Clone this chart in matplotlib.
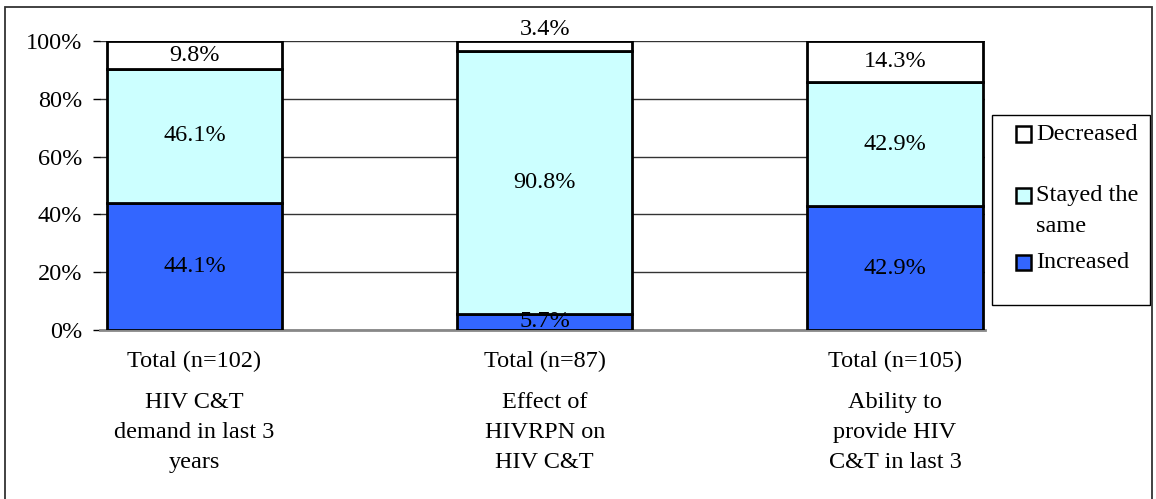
import matplotlib
matplotlib.use("Agg")
import matplotlib.pyplot as plt
from matplotlib.patches import Rectangle
import numpy as np

plt.rcParams['font.family'] = ['Liberation Serif', 'DejaVu Serif']

totals = ["Total (n=102)", "Total (n=87)", "Total (n=105)"]
descriptions = ["HIV C&T\ndemand in last 3\nyears",
                "Effect of\nHIVRPN on\nHIV C&T",
                "Ability to\nprovide HIV\nC&T in last 3"]
increased = [44.1, 5.7, 42.9]
stayed = [46.1, 90.8, 42.9]
decreased = [9.8, 3.4, 14.3]
series_names = ["Increased", "Stayed the\nsame", "Decreased"]
series_colors = ["#3366FF", "#CCFFFF", "#FFFFFF"]
yticks = [0, 20, 40, 60, 80, 100]

W, H = 1156, 499
fig = plt.figure(figsize=(W / 100, H / 100), dpi=100)
ax = fig.add_axes([100 / W, 1 - 330 / H, (985 - 100) / W, (330 - 41) / H])

x = np.arange(len(totals))
fs = 17.5
bottom = np.zeros(len(x))
for vals, name, col in zip([increased, stayed, decreased], series_names, series_colors):
    vals = np.array(vals)
    ax.bar(x, vals, width=0.5, bottom=bottom, color=col, edgecolor='black',
           linewidth=2, label=name, zorder=3)
    for xi, b, v in zip(x, bottom, vals):
        if v < 5 and name == "Decreased":
            ax.text(xi, b + v + 0.3, f"{v:.1f}%", ha='center', va='bottom', fontsize=fs, zorder=4)
        else:
            ax.text(xi, b + v / 2, f"{v:.1f}%", ha='center', va='center', fontsize=fs, zorder=4)
    bottom = bottom + vals

ax.set_xlim(-0.27, 2.257)
ax.set_ylim(0, 100)
ax.set_yticks(yticks)
ax.set_yticklabels([f"{t}%" for t in yticks], fontsize=fs)
ax.tick_params(axis='y', length=5, width=1, pad=8, direction='out')
ax.set_xticks(x)
ax.set_xticklabels(totals, fontsize=fs)
ax.tick_params(axis='x', length=0, pad=15)
ax.yaxis.grid(True, color='#333333', linewidth=1, zorder=0)
for s in ['top', 'right', 'left']:
    ax.spines[s].set_visible(False)
ax.spines['bottom'].set_color('#888888')
ax.spines['bottom'].set_linewidth(2)

for xi, d in zip(x, descriptions):
    ax.text(xi, -0.215, d, transform=ax.get_xaxis_transform(), ha='center', va='top',
            fontsize=fs, linespacing=1.56)

# legend (drawn as a box with swatches and labels)
fig.patches.append(Rectangle((992 / W, 1 - 305 / H), (1150 - 992) / W, (305 - 115) / H,
                             transform=fig.transFigure, facecolor='white',
                             edgecolor='black', linewidth=1))
row_y = [262, 195, 134]  # pixel centres for Increased, Stayed, Decreased
for name, col, ry in zip(series_names, series_colors, row_y):
    fig.patches.append(Rectangle((1016 / W, 1 - (ry + 7.5) / H), 15 / W, 15 / H,
                                 transform=fig.transFigure, facecolor=col,
                                 edgecolor='black', linewidth=1.8))
    for k, line in enumerate(name.split("\n")):
        fig.text(1036 / W, 1 - (ry + 6 + 31 * k) / H, line, ha='left', va='baseline',
                 fontsize=fs)

# outer frame
fig.patches.append(Rectangle((5 / W, -0.01), (1152 - 5) / W, 1.01 - 7 / H,
                             transform=fig.transFigure, facecolor='none',
                             edgecolor='#333333', linewidth=1.3))

fig.savefig("out.png", dpi=100)
